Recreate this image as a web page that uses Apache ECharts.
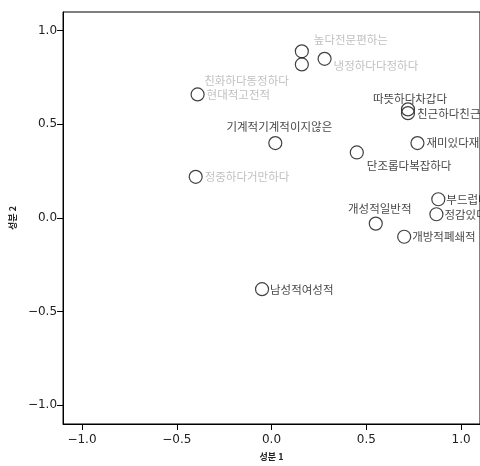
<!DOCTYPE html>
<html>
<head>
<meta charset="utf-8">
<script src="https://cdn.jsdelivr.net/npm/echarts@6/dist/echarts.min.js"></script>
<style>
  html, body { margin: 0; padding: 0; background: #fff; }
  #container { width: 480px; height: 466px; }
</style>
</head>
<body>
<div id="container"></div>
<script>
var dom = document.getElementById("container");
var myChart = echarts.init(dom);

// 성분 1 / 성분 2 좌표
var names = ['높다전문편하는', '친화하다동정하다', '냉정하다다정하다', '현대적고전적',
    '따뜻하다차갑다', '친근하다친근하지않다', '기계적기계적이지않은', '재미있다재미없다',
    '단조롭다복잡하다', '정중하다거만하다', '부드럽다딱딱하다', '정감있다정감없다',
    '개성적일반적', '개방적폐쇄적', '남성적여성적'];
var dim1 = [0.16, 0.16, 0.28, -0.39, 0.72, 0.72, 0.02, 0.77, 0.45, -0.40, 0.88, 0.87, 0.55, 0.70, -0.05];
var dim2 = [0.89, 0.82, 0.85, 0.66, 0.58, 0.56, 0.40, 0.40, 0.35, 0.22, 0.10, 0.02, -0.03, -0.10, -0.38];
var ticks = [-1.0, -0.5, 0.0, 0.5, 1.0];

// label placement (align, dx, dy) and faint print
var labelLayout = [
    ['left', 12, -12], ['right', -13, 16], ['left', 9, 7], ['left', 9, 0],
    ['center', 2, -11], ['left', 9, 0], ['center', 4, -16], ['left', 9, 0],
    ['left', 10, 13], ['left', 9, 0], ['left', 8, 0], ['left', 8, 0],
    ['center', 4, -15], ['left', 8, 0], ['left', 8, 0]
];
var faint = [true, true, true, true, false, false, false, false, false, true, false, false, false, false, false];

var data = [];
for (var i = 0; i < names.length; i++) {
    var lay = labelLayout[i];
    data.push({
        name: names[i],
        value: [dim1[i], dim2[i]],
        label: {
            align: lay[0],
            offset: [lay[1], lay[2]],
            color: faint[i] ? '#b0b0b0' : '#111'
        }
    });
}

function fmt(v) { return v.toFixed(1).replace('-', '−'); }

option = {
    animation: false,
    grid: {
        left: 63, right: -3, top: 12, bottom: 40,
        show: true, borderColor: '#000', borderWidth: 1
    },
    xAxis: {
        type: 'value', min: -1.1, max: 1.1,
        name: '성분 1', nameLocation: 'middle', nameGap: 28,
        nameTextStyle: { fontFamily: 'Noto Sans CJK KR', fontSize: 9, fontWeight: 'bold', color: '#222' },
        splitLine: { show: false },
        axisLine: { onZero: false, lineStyle: { color: '#000' } },
        axisTick: { length: 6, lineStyle: { color: '#000' }, customValues: ticks },
        axisLabel: {
            customValues: ticks, margin: 10,
            fontFamily: 'DejaVu Sans', fontSize: 12, color: '#222',
            formatter: fmt
        }
    },
    yAxis: {
        type: 'value', min: -1.1, max: 1.1,
        name: '성분 2', nameLocation: 'middle', nameGap: 42,
        nameTextStyle: { fontFamily: 'Noto Sans CJK KR', fontSize: 9, fontWeight: 'bold', color: '#222' },
        splitLine: { show: false },
        axisLine: { onZero: false, lineStyle: { color: '#000' } },
        axisTick: { length: 6, lineStyle: { color: '#000' }, customValues: ticks },
        axisLabel: {
            customValues: ticks, margin: 6,
            fontFamily: 'DejaVu Sans', fontSize: 12, color: '#222',
            formatter: fmt
        }
    },
    series: [{
        type: 'scatter',
        symbol: 'circle',
        symbolSize: 13,
        itemStyle: { color: 'rgba(0,0,0,0)', borderColor: '#111', borderWidth: 1.2 },
        label: {
            show: true,
            position: 'inside',
            verticalAlign: 'middle',
            fontFamily: 'Noto Sans CJK KR',
            fontSize: 11.5,
            formatter: function (p) { return p.name; }
        },
        data: data
    }]
};

if (option && typeof option === "object") {
    myChart.setOption(option, true);
}
</script>
</body>
</html>
